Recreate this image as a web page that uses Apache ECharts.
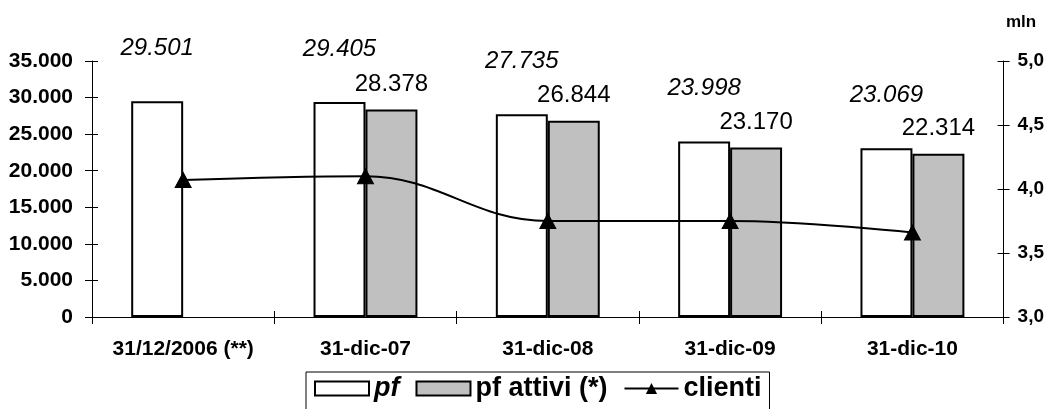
<!DOCTYPE html>
<html>
<head>
<meta charset="utf-8">
<script src="https://cdn.jsdelivr.net/npm/echarts@6/dist/echarts.min.js"></script>
<style>
  html, body { margin: 0; padding: 0; background: #ffffff; }
  #chart { width: 1047px; height: 409px; }
</style>
</head>
<body>
<div id="chart"></div>
<script>
// Portafoglio: valori in migliaia (asse sinistro) e clienti in milioni (asse destro)
const categories = ['31/12/2006 (**)', '31-dic-07', '31-dic-08', '31-dic-09', '31-dic-10'];
const pfValues = [29501, 29405, 27735, 23998, 23069];
const pfAttiviValues = [null, 28378, 26844, 23170, 22314];
const clientiValues = [4.07, 4.10, 3.75, 3.75, 3.66];
const leftTicks = { min: 0, max: 35000, interval: 5000 };
const rightTicks = { min: 3, max: 5, interval: 0.5 };

const FONT = '"Liberation Sans", Arial, sans-serif';

function formatThousands(v) {
  return String(v).replace(/\B(?=(\d{3})+(?!\d))/g, '.');
}
function formatDecimal(v) {
  return v.toFixed(1).replace('.', ',');
}

const chart = echarts.init(document.getElementById('chart'), null, { renderer: 'canvas' });

const axisLine = { show: true, lineStyle: { color: '#000', width: 1 } };
const tickStyle = { color: '#000', width: 1 };

chart.setOption({
  animation: false,
  backgroundColor: '#ffffff',
  textStyle: { fontFamily: FONT },
  title: {
    text: 'mln',
    left: 1001,
    top: 9,
    textStyle: { fontFamily: FONT, fontSize: 17, fontWeight: 'bold', color: '#000' }
  },
  grid: { left: 92, right: 42, top: 61, bottom: 92, containLabel: false },
  legend: {
    left: 306,
    top: 372,
    orient: 'horizontal',
    itemWidth: 54,
    itemHeight: 14,
    itemGap: 16,
    padding: [3, 8, 12, 8],
    borderColor: '#000',
    borderWidth: 1,
    backgroundColor: '#fff',
    data: [
      { name: 'pf', icon: 'rect', textStyle: { fontStyle: 'italic' } },
      { name: 'pf attivi (*)', icon: 'rect' },
      { name: 'clienti' }
    ],
    textStyle: { fontFamily: FONT, fontSize: 27, fontWeight: 'bold', color: '#000' }
  },
  xAxis: [
    {
      type: 'category',
      data: categories,
      boundaryGap: true,
      axisLine: axisLine,
      axisTick: { show: true, inside: false, length: 7, interval: 0, lineStyle: tickStyle },
      axisLabel: { color: '#000', fontFamily: FONT, fontSize: 21, fontWeight: 'bold', margin: 22, interval: 0 },
      splitLine: { show: false }
    },
    {
      type: 'category',
      data: categories,
      position: 'bottom',
      boundaryGap: true,
      axisLine: { show: false },
      axisTick: { show: true, inside: true, length: 6, interval: 0, lineStyle: tickStyle },
      axisLabel: { show: false, interval: 0 },
      splitLine: { show: false }
    }
  ],
  yAxis: [
    {
      type: 'value',
      position: 'left',
      min: leftTicks.min, max: leftTicks.max, interval: leftTicks.interval,
      axisLine: axisLine,
      axisTick: { show: true, inside: false, length: 7, lineStyle: tickStyle },
      axisLabel: { color: '#000', fontFamily: FONT, fontSize: 21, fontWeight: 'bold', margin: 19, formatter: formatThousands },
      splitLine: { show: false }
    },
    {
      type: 'value',
      position: 'right',
      min: rightTicks.min, max: rightTicks.max, interval: rightTicks.interval,
      axisLine: axisLine,
      axisTick: { show: true, inside: false, length: 6, lineStyle: tickStyle },
      axisLabel: { color: '#000', fontFamily: FONT, fontSize: 19, fontWeight: 'bold', margin: 14, formatter: formatDecimal },
      splitLine: { show: false }
    },
    {
      type: 'value',
      position: 'left',
      min: leftTicks.min, max: leftTicks.max, interval: leftTicks.interval,
      axisLine: { show: false },
      axisTick: { show: true, inside: true, length: 6, lineStyle: tickStyle },
      axisLabel: { show: false },
      splitLine: { show: false }
    },
    {
      type: 'value',
      position: 'right',
      min: rightTicks.min, max: rightTicks.max, interval: rightTicks.interval,
      axisLine: { show: false },
      axisTick: { show: true, inside: true, length: 6, lineStyle: tickStyle },
      axisLabel: { show: false },
      splitLine: { show: false }
    }
  ],
  series: [
    {
      name: 'pf',
      type: 'bar',
      xAxisIndex: 0,
      yAxisIndex: 0,
      data: pfValues,
      barWidth: '28.5%',
      barGap: '0%',
      itemStyle: { color: '#ffffff', borderColor: '#000', borderWidth: 2 },
      label: {
        show: true,
        position: 'top',
        distance: 41,
        color: '#000',
        fontFamily: FONT,
        fontSize: 24,
        fontStyle: 'italic',
        formatter: p => formatThousands(p.value)
      },
      z: 2
    },
    {
      name: 'pf attivi (*)',
      type: 'bar',
      xAxisIndex: 0,
      yAxisIndex: 0,
      data: pfAttiviValues,
      barWidth: '28.5%',
      barGap: '0%',
      itemStyle: { color: '#c0c0c0', borderColor: '#000', borderWidth: 2 },
      label: {
        show: true,
        position: 'top',
        distance: 13,
        color: '#000',
        fontFamily: FONT,
        fontSize: 24,
        formatter: p => (p.value == null ? '' : formatThousands(p.value))
      },
      z: 2
    },
    {
      name: 'clienti',
      type: 'line',
      xAxisIndex: 0,
      yAxisIndex: 1,
      data: clientiValues,
      smooth: 0.4,
      symbol: 'triangle',
      symbolSize: [16, 15],
      showAllSymbol: true,
      lineStyle: { color: '#000', width: 2 },
      itemStyle: { color: '#000', borderColor: '#000' },
      label: { show: false },
      z: 5
    }
  ]
});
</script>
</body>
</html>
